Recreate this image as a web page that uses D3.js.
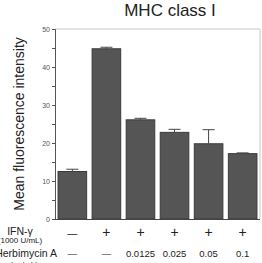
<!DOCTYPE html>
<html><head><meta charset="utf-8">
<script src="https://cdn.jsdelivr.net/npm/d3@7"></script>
<style>body{margin:0;background:#fff;}svg{display:block;font-family:Arial,"Liberation Sans",sans-serif;}</style>
</head><body>
<svg id="c" width="262" height="263"></svg>
<script>
const categories = ["c1","c2","c3","c4","c5","c6"];
const values = [12.5, 44.8, 26.1, 22.8, 19.8, 17.2];
const errors = [0.6, 0.4, 0.4, 0.8, 3.7, 0.2];
const ifnLabels = ["—","+","+","+","+","+"];
const herbLabels = ["—","—","0.0125","0.025","0.05","0.1"];
const yTicks = [0,10,20,30,40,50];
const yMinor = [5,15,25,35,45];

const svg = d3.select("#c");
const L = 55, R = 259, T = 29, B = 219;
const x = d3.scaleBand().domain(categories).range([L+1, R]).paddingInner(0.16).paddingOuter(0.06);
const y = d3.scaleLinear().domain([0,50]).range([B, T]);

svg.append("path").attr("d",`M${L},${T}H${R+1}V${B}`).attr("fill","none").attr("stroke","#c8c8c8").attr("stroke-width",1);

svg.selectAll("rect.bar").data(values).join("rect")
  .attr("x",(d,i)=>x(categories[i])).attr("y",d=>y(d))
  .attr("width",x.bandwidth()).attr("height",d=>B-y(d))
  .attr("fill","#555").attr("stroke","#3a3a3a").attr("stroke-width",1);

const eg = svg.append("g").attr("stroke","#444").attr("stroke-width",1);
values.forEach((v,i)=>{
  const cx = x(categories[i]) + x.bandwidth()/2;
  eg.append("line").attr("x1",cx).attr("x2",cx).attr("y1",y(v)).attr("y2",y(v+errors[i]));
  eg.append("line").attr("x1",cx-6).attr("x2",cx+6).attr("y1",y(v+errors[i])).attr("y2",y(v+errors[i]));
});

const ax = svg.append("g").attr("transform",`translate(${L},0)`)
  .call(d3.axisLeft(y).tickValues(yTicks).tickSize(3).tickPadding(2));
ax.select(".domain").attr("stroke","#555");
ax.selectAll(".tick line").attr("stroke","#555");
ax.selectAll("text").attr("font-size",7).attr("fill","#555").attr("font-family","Arial,'Liberation Sans',sans-serif");
svg.append("g").attr("transform",`translate(${L},0)`)
  .call(d3.axisLeft(y).tickValues(yMinor).tickSize(3).tickFormat(""))
  .call(g=>g.select(".domain").remove()).selectAll("line").attr("stroke","#555");
svg.append("line").attr("x1",L).attr("x2",R+1).attr("y1",B+0.5).attr("y2",B+0.5).attr("stroke","#444");

svg.append("text").attr("x",170).attr("y",16).attr("text-anchor","middle").attr("font-size",17).attr("fill","#222").text("MHC class I");
svg.append("text").attr("transform",`translate(24,${(T+B)/2}) rotate(-90)`).attr("text-anchor","middle")
  .attr("font-size",14).attr("fill","#222").text("Mean fluorescence intensity");

svg.append("text").attr("x",20).attr("y",235).attr("text-anchor","middle").attr("font-size",10.5).attr("fill","#222").text("IFN-γ");
svg.append("text").attr("x",20).attr("y",243).attr("text-anchor","middle").attr("font-size",8).attr("fill","#222").text("(1000 U/mL)");
svg.append("text").attr("x",57).attr("y",257).attr("text-anchor","end").attr("font-size",10.5).attr("fill","#222").text("Herbimycin A");
svg.append("text").attr("x",24).attr("y",267).attr("text-anchor","middle").attr("font-size",8).attr("fill","#222").text("(μg/mL)");

svg.selectAll("text.ifn").data(ifnLabels).join("text").attr("class","ifn")
  .attr("x",(d,i)=>x(categories[i])+x.bandwidth()/2).attr("y",237).attr("text-anchor","middle")
  .attr("font-size",d=>d==="+"?14:10).attr("fill","#222").text(d=>d);
svg.selectAll("text.herb").data(herbLabels).join("text").attr("class","herb")
  .attr("x",(d,i)=>x(categories[i])+x.bandwidth()/2).attr("y",257).attr("text-anchor","middle")
  .attr("font-size",9.5).attr("fill","#222").text(d=>d);
</script>
</body></html>
